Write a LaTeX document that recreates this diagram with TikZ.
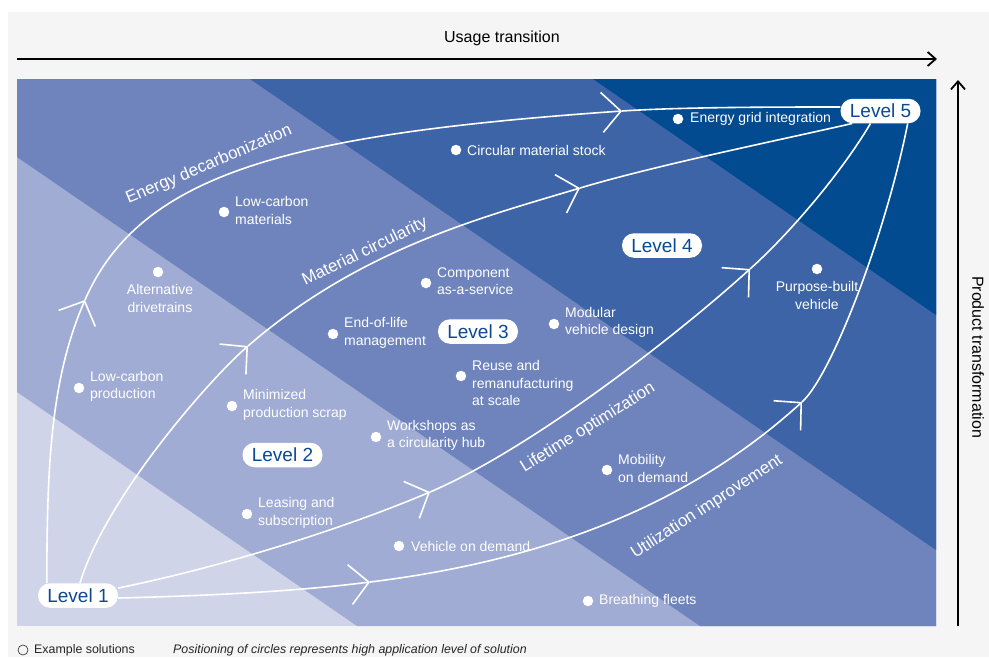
\documentclass[tikz,border=0pt]{standalone}
\usepackage{fontspec}
\setmainfont{Liberation Sans}
\usetikzlibrary{arrows.meta,calc}
\pgfdeclarelayer{bglayer}
\pgfdeclarelayer{midlayer}
\pgfsetlayers{bglayer,midlayer,main}
\definecolor{bgpanel}{HTML}{F5F5F5}
\definecolor{bandA}{HTML}{D0D4E9}
\definecolor{bandB}{HTML}{A0ACD4}
\definecolor{bandC}{HTML}{6F84BD}
\definecolor{bandD}{HTML}{3D64A7}
\definecolor{bandE}{HTML}{034B91}
\definecolor{levelblue}{HTML}{0B4A92}
\begin{document}
\begin{tikzpicture}[x=1pt,y=-1pt,
 pathline/.style={draw=white, line width=1.6pt},
 barbtip/.style={-{Straight Barb[length=19pt,width=40pt]}},
 levelbox/.style={fill=white, rounded corners=12pt, text=levelblue, font=\fontsize{19}{19}\selectfont, minimum width=80pt, minimum height=24.5pt, inner sep=0pt},
 soldot/.style={circle, fill=white, minimum size=10.5pt, inner sep=0pt},
 sol/.style={text=white, font=\fontsize{14}{17.5}\selectfont, align=left, anchor=west, inner sep=0pt},
 solc/.style={text=white, font=\fontsize{14}{17.5}\selectfont, align=center, anchor=center, inner sep=0pt},
 curvelabel/.style={text=white, font=\fontsize{17}{17}\selectfont, inner sep=0pt},
 axislabel/.style={text=black, font=\fontsize{16}{16}\selectfont, inner sep=0pt},
 axisarrow/.style={draw=black, line width=1.8pt, -{Straight Barb[length=8pt,width=14pt]}},
 legendtext/.style={text=black!85, font=\fontsize{12.4}{12.4}\selectfont, anchor=west, inner sep=0pt},
]
\useasboundingbox (0,0) rectangle (989,657);
\begin{pgfonlayer}{bglayer}
\fill[white] (0,0) rectangle (989,657);
\fill[bgpanel] (8,12) rectangle (989,657);
\fill[bandA] (17,79) rectangle (936,626);
\fill[bandB] (17,79) -- (936,79) -- (936,626) -- (357,626) -- (17,392) -- cycle;
\fill[bandC] (17,79) -- (936,79) -- (936,626) -- (700,626) -- (17,157) -- cycle;
\fill[bandD] (250,79) -- (936,79) -- (936,550) -- cycle;
\fill[bandE] (593,79) -- (936,79) -- (936,315) -- cycle;
\end{pgfonlayer}

% axes
\coordinate (ux0) at (17,59);
\coordinate (ux1) at (937,59);
\draw[axisarrow] (ux0) -- (ux1);
\node[axislabel] (ulabel) at (502,38) {Usage transition};
\coordinate (py0) at (958,626);
\coordinate (py1) at (958,80);
\draw[axisarrow] (py0) -- (py1);
\node[axislabel, rotate=-90] (plabel) at (978,357) {Product transformation};

% levels
\node[levelbox] (L1) at (78,595.5) {Level 1};
\node[levelbox] (L2) at (282.5,455) {Level 2};
\node[levelbox] (L3) at (478,331.5) {Level 3};
\node[levelbox] (L4) at (662,245.5) {Level 4};
\node[levelbox] (L5) at (880.5,111) {Level 5};

\begin{pgfonlayer}{midlayer}
% curve A: energy decarbonization
\coordinate (a0) at ($(L1.north west)+(9,0)$);
\coordinate (a1) at (85,300);
\coordinate (a2) at (622,111);
\coordinate (a3) at ($(L5.west)+(0,-4)$);
\draw[pathline, barbtip] (a0) .. controls (47,470) and (50,380) .. (a1);
\draw[pathline, barbtip] (a1) .. controls (141,172) and (292,134) .. (a2);
\draw[pathline] (a2) .. controls (682,107) and (780,107) .. (a3);
% curve B: material circularity
\coordinate (b0) at ($(L1.north)+(2,0)$);
\coordinate (b1) at (248,346);
\coordinate (b2) at (580,188);
\coordinate (b3) at ($(L5.south west)+(12,0)$);
\draw[pathline, barbtip] (b0) .. controls (106,497) and (210,379) .. (b1);
\draw[pathline, barbtip] (b1) .. controls (361,248) and (484,217) .. (b2);
\draw[pathline] (b2) .. controls (657,165) and (780,140) .. (b3);
% curve C: lifetime optimization
\coordinate (c0) at ($(L1.east)+(0,-7.5)$);
\coordinate (c1) at (430,492);
\coordinate (c2) at (750,269);
\coordinate (c3) at ($(L5.south)+(-10,0)$);
\draw[pathline, barbtip] (c0) .. controls (218,568) and (343,529) .. (c1);
\draw[pathline, barbtip] (c1) .. controls (531,449) and (676,336) .. (c2);
\draw[pathline] (c2) .. controls (787,236) and (840,175) .. (c3);
% curve D: utilization improvement
\coordinate (d0) at ($(L1.east)+(0,2.5)$);
\coordinate (d1) at (370,582);
\coordinate (d2) at (802,402);
\coordinate (d3) at ($(L5.south east)+(-13,0)$);
\draw[pathline, barbtip] (d0) .. controls (200,596) and (291,592) .. (d1);
\draw[pathline, barbtip] (d1) .. controls (549,560) and (691,503) .. (d2);
\draw[pathline] (d2) .. controls (832,375) and (886,233) .. (d3);
\end{pgfonlayer}

% curve labels
\node[curvelabel, rotate=23] (lblA) at (209,165) {Energy decarbonization};
\node[curvelabel, rotate=26] (lblB) at (365,252) {Material circularity};
\node[curvelabel, rotate=32] (lblC) at (588,428) {Lifetime optimization};
\node[curvelabel, rotate=33] (lblD) at (707,507) {Utilization improvement};

% solutions
\node[soldot] (s1) at (678,119) {};
\node[sol] (t1) at (690,119) {Energy grid integration};
\node[soldot] (s2) at (456,150) {};
\node[sol] (t2) at (467,150) {Circular material stock};
\node[soldot] (s3) at (224,212) {};
\node[sol] (t3) at (235,210.5) {Low-carbon\\materials};
\node[soldot] (s4) at (158,272) {};
\node[solc] (t4) at (160,298.5) {Alternative\\drivetrains};
\node[soldot] (s5) at (79,388) {};
\node[sol] (t5) at (90,386.5) {Low-carbon\\production};
\node[soldot] (s6) at (426,283) {};
\node[sol] (t6) at (437,281) {Component\\as-a-service};
\node[soldot] (s7) at (333,334) {};
\node[sol] (t7) at (344,333) {End-of-life\\management};
\node[soldot] (s8) at (554,324) {};
\node[sol] (t8) at (565,322.5) {Modular\\vehicle design};
\node[soldot] (s9) at (461,376) {};
\node[sol] (t9) at (472,383) {Reuse and\\remanufacturing\\at scale};
\node[soldot] (s10) at (232,406) {};
\node[sol] (t10) at (243,405) {Minimized\\production scrap};
\node[soldot] (s11) at (247,514) {};
\node[sol] (t11) at (258,513) {Leasing and\\subscription};
\node[soldot] (s12) at (376,437) {};
\node[sol] (t12) at (387,435.5) {Workshops as\\a circularity hub};
\node[soldot] (s13) at (399,546) {};
\node[sol] (t13) at (411,546) {Vehicle on demand};
\node[soldot] (s14) at (588,601) {};
\node[sol] (t14) at (599,601) {Breathing fleets};
\node[soldot] (s15) at (607,470) {};
\node[sol] (t15) at (618,468.5) {Mobility\\on demand};
\node[soldot] (s16) at (817,269) {};
\node[solc] (t16) at (817,295.5) {Purpose-built\\vehicle};

% legend
\node[circle, draw=black!85, line width=0.6pt, minimum size=10pt, inner sep=0pt] (legc) at (23,650) {};
\node[legendtext] (legt) at (34,650) {Example solutions};
\node[legendtext, font=\fontsize{12.4}{12.4}\selectfont\itshape] (legnote) at (173,650) {Positioning of circles represents high application level of solution};
\end{tikzpicture}
\end{document}
